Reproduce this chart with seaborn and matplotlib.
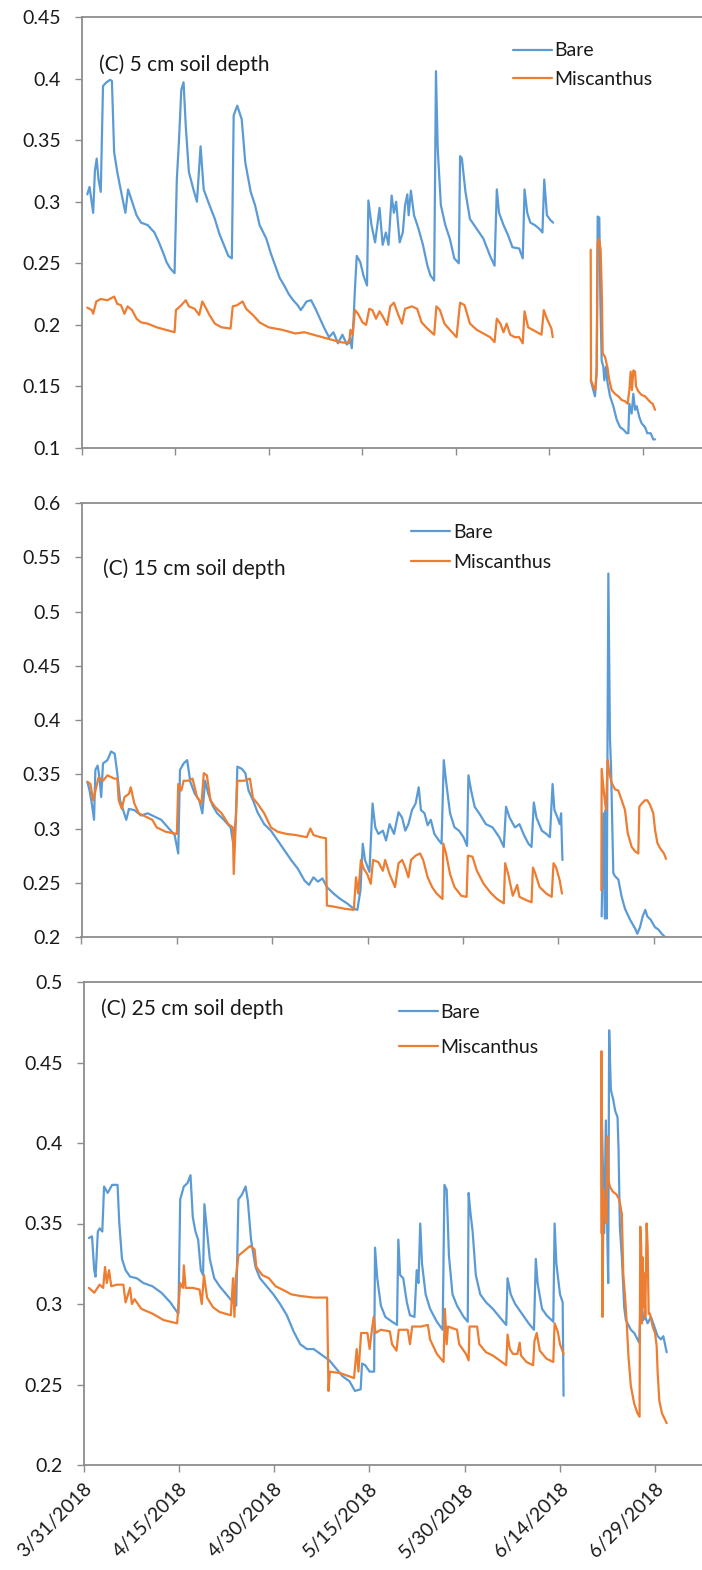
import numpy as np
import pandas as pd
import matplotlib
matplotlib.use('Agg')
import matplotlib.pyplot as plt
import seaborn as sns
from matplotlib.ticker import FuncFormatter

start = pd.Timestamp('2018-03-31')
tick_dates = pd.date_range(start, periods=7, freq='15D')
tick_labels = ['3/31/2018', '4/15/2018', '4/30/2018', '5/15/2018',
               '5/30/2018', '6/14/2018', '6/29/2018']
series_names = ['Bare', 'Miscanthus']
colors = {'Bare': '#5B9BD5', 'Miscanthus': '#ED7D31'}

# ---- 5 cm soil depth (days after 3/31/2018, soil water content) ----
bare5_day = [0.93, 1.29, 1.87, 2.15, 2.44, 2.73, 3.09, 3.45, 4.02, 4.59, 4.88, 5.24, 5.74, 6.32, 7.04, 7.47,
             8.11, 8.83, 9.55, 10.62, 11.70, 12.42, 13.14, 13.64, 14.21, 14.93, 15.29, 15.65, 16.01, 16.37,
             16.73, 17.23, 17.95, 18.52, 19.10, 19.60, 20.32, 21.39, 22.11, 22.83, 23.55, 24.12, 24.41, 24.98,
             25.70, 26.27, 27.14, 27.85, 28.57, 29.65, 30.37, 31.08, 31.80, 32.52, 33.24, 33.96, 34.67, 35.18,
             36.11, 36.83, 37.54, 38.26, 38.98, 39.70, 40.42, 41.13, 41.85, 42.57, 43.07, 43.36, 43.65, 43.86,
             44.15, 44.72, 45.23, 45.80, 46.02, 46.52, 47.09, 47.38, 47.81, 48.31, 48.82, 49.25, 49.75, 50.11,
             50.47, 51.04, 51.54, 51.90, 52.26, 52.48, 52.84, 53.34, 54.06, 54.77, 55.49, 55.99, 56.57, 56.86,
             57.14, 57.65, 58.36, 59.08, 59.80, 60.52, 60.73, 61.02, 61.59, 62.31, 63.39, 64.47, 65.54, 66.26,
             66.62, 66.98, 67.70, 68.41, 69.13, 70.21, 70.78, 71.07, 71.50, 72.00, 72.72, 73.44, 73.94, 74.23,
             74.66, 75.23, 75.66,
             81.68, 82.10, 82.37, 82.64, 82.80, 83.06, 83.23, 83.44, 83.71, 83.87, 84.14, 84.35, 84.78, 85.31,
             85.85, 86.38, 86.91, 87.45, 87.72, 87.88, 88.25, 88.52, 88.79, 89.06, 89.48, 89.86, 90.39, 90.76,
             91.30, 91.72, 92.00]
bare5_val = [0.306, 0.312, 0.291, 0.325, 0.335, 0.318, 0.308, 0.394, 0.397, 0.399, 0.398, 0.340, 0.324, 0.309, 0.291, 0.310,
             0.300, 0.289, 0.283, 0.281, 0.275, 0.267, 0.258, 0.251, 0.246, 0.242, 0.318, 0.351, 0.391, 0.397,
             0.361, 0.324, 0.310, 0.300, 0.345, 0.310, 0.300, 0.286, 0.274, 0.265, 0.256, 0.254, 0.370, 0.378,
             0.367, 0.332, 0.308, 0.297, 0.281, 0.270, 0.258, 0.248, 0.238, 0.232, 0.225, 0.220, 0.216, 0.212,
             0.219, 0.220, 0.213, 0.205, 0.197, 0.190, 0.194, 0.185, 0.192, 0.184, 0.189, 0.181, 0.205, 0.229,
             0.256, 0.251, 0.240, 0.232, 0.301, 0.281, 0.267, 0.278, 0.295, 0.265, 0.275, 0.265, 0.305, 0.291,
             0.300, 0.267, 0.275, 0.297, 0.306, 0.289, 0.309, 0.289, 0.278, 0.265, 0.248, 0.240, 0.236, 0.406,
             0.343, 0.297, 0.281, 0.270, 0.254, 0.250, 0.337, 0.335, 0.308, 0.286, 0.278, 0.270, 0.256, 0.248,
             0.310, 0.291, 0.281, 0.273, 0.263, 0.262, 0.254, 0.310, 0.291, 0.283, 0.281, 0.278, 0.275, 0.318,
             0.289, 0.285, 0.283,
             0.155, 0.147, 0.142, 0.161, 0.288, 0.287, 0.220, 0.171, 0.166, 0.155, 0.166, 0.154, 0.142, 0.134,
             0.123, 0.117, 0.115, 0.112, 0.112, 0.136, 0.128, 0.144, 0.131, 0.134, 0.125, 0.120, 0.117, 0.112,
             0.112, 0.107, 0.107]
misc5_day = [0.93, 1.65, 1.87, 2.37, 3.09, 4.16, 5.24, 5.74, 6.32, 6.89, 7.39, 8.11, 8.83, 9.55, 10.62, 12.06,
             13.50, 14.93, 15.15, 16.01, 16.73, 17.23, 18.16, 18.88, 19.38, 19.81, 20.53, 21.39, 22.47, 23.91,
             24.26, 24.98, 25.84, 26.42, 27.49, 28.57, 30.01, 32.16, 34.31, 35.75, 37.19, 39.34, 41.49, 42.93,
             43.14, 43.50, 43.86, 44.36, 45.08, 45.66, 46.16, 46.66, 47.24, 47.81, 48.31, 49.03, 49.53, 50.11,
             50.83, 51.40, 51.90, 52.98, 53.84, 54.56, 55.49, 56.57, 56.93, 57.50, 58.22, 59.08, 60.16, 60.73,
             61.45, 62.31, 63.39, 64.47, 65.54, 66.26, 66.62, 67.19, 67.70, 68.20, 68.77, 69.49, 70.21, 70.78,
             71.07, 71.64, 72.36, 73.08, 73.79, 74.16, 74.66, 75.38, 75.59,
             81.68, 81.73, 82.10, 82.42, 82.64, 82.80, 83.01, 83.28, 83.49, 83.60, 83.97, 84.35, 84.67, 85.05,
             85.58, 86.11, 86.65, 87.18, 87.61, 87.88, 88.09, 88.30, 88.52, 88.79, 88.95, 89.32, 89.86, 90.39,
             90.92, 91.30, 91.62, 92.00]
misc5_val = [0.214, 0.212, 0.209, 0.219, 0.221, 0.220, 0.223, 0.217, 0.216, 0.209, 0.215, 0.212, 0.205, 0.202, 0.201, 0.198,
             0.196, 0.194, 0.212, 0.216, 0.220, 0.215, 0.213, 0.208, 0.219, 0.215, 0.208, 0.201, 0.198, 0.197,
             0.215, 0.216, 0.219, 0.213, 0.208, 0.202, 0.198, 0.196, 0.193, 0.194, 0.192, 0.189, 0.186, 0.185,
             0.196, 0.192, 0.212, 0.209, 0.202, 0.200, 0.213, 0.212, 0.205, 0.211, 0.207, 0.200, 0.215, 0.218,
             0.208, 0.201, 0.213, 0.215, 0.213, 0.202, 0.197, 0.192, 0.215, 0.212, 0.201, 0.196, 0.190, 0.218,
             0.216, 0.201, 0.196, 0.193, 0.190, 0.186, 0.205, 0.201, 0.194, 0.201, 0.192, 0.190, 0.190, 0.185,
             0.211, 0.198, 0.196, 0.194, 0.192, 0.212, 0.205, 0.197, 0.190,
             0.261, 0.155, 0.150, 0.147, 0.166, 0.266, 0.270, 0.261, 0.220, 0.177, 0.174, 0.166, 0.155, 0.147,
             0.144, 0.142, 0.139, 0.138, 0.136, 0.147, 0.162, 0.147, 0.163, 0.162, 0.150, 0.146, 0.143, 0.142,
             0.139, 0.137, 0.136, 0.131]

# ---- 15 cm soil depth ----
bare15_day = [0.92, 1.27, 1.62, 1.97, 2.18, 2.54, 2.82, 3.10, 3.38, 4.08, 4.65, 5.21, 5.63, 6.06, 6.55, 7.04,
              7.46, 8.31, 9.37, 10.42, 11.48, 12.54, 13.59, 14.65, 15.21, 15.49, 16.06, 16.62, 17.11, 17.82,
              18.52, 19.01, 19.44, 19.93, 20.63, 21.34, 22.39, 23.45, 23.94, 24.30, 24.51, 25.21, 25.77, 26.27,
              26.97, 27.68, 28.73, 29.79, 30.85, 31.90, 32.96, 34.01, 35.07, 35.77, 36.48, 37.18, 37.89, 38.59,
              39.65, 40.70, 41.76, 42.82, 43.38, 43.87, 44.23, 44.58, 45.28, 45.77, 46.20, 46.69, 47.39, 47.89,
              48.45, 49.15, 49.86, 50.42, 50.92, 51.41, 51.97, 52.54, 53.03, 53.38, 53.94, 54.44, 54.93, 55.49,
              56.20, 56.62, 56.97, 57.32, 57.96, 58.66, 59.37, 60.07, 60.63, 60.85, 61.27, 61.83, 62.54, 63.59,
              64.65, 65.70, 66.41, 66.76, 67.32, 68.17, 68.87, 69.58, 70.28, 70.77, 71.13, 71.55, 72.39, 73.10,
              73.66, 74.08, 74.37, 74.86, 75.21, 75.42, 75.63,
              81.80, 82.06, 82.30, 82.43, 82.59, 82.85, 83.11, 83.27, 83.63, 83.90, 84.42, 84.95, 85.47, 86.26,
              87.04, 87.40, 87.83, 88.25, 88.66, 88.98, 89.50, 90.19, 90.70, 91.24, 91.76]
bare15_val = [0.343, 0.335, 0.323, 0.308, 0.354, 0.358, 0.347, 0.329, 0.360, 0.363, 0.371, 0.369, 0.351, 0.326, 0.317, 0.308,
              0.318, 0.317, 0.312, 0.314, 0.311, 0.308, 0.301, 0.294, 0.277, 0.354, 0.360, 0.363, 0.343, 0.332,
              0.326, 0.314, 0.344, 0.332, 0.321, 0.314, 0.308, 0.301, 0.283, 0.314, 0.357, 0.355, 0.351, 0.335,
              0.326, 0.315, 0.304, 0.298, 0.289, 0.280, 0.271, 0.263, 0.252, 0.248, 0.255, 0.251, 0.254, 0.246,
              0.240, 0.235, 0.231, 0.226, 0.225, 0.243, 0.286, 0.271, 0.260, 0.323, 0.301, 0.295, 0.298, 0.289,
              0.304, 0.295, 0.315, 0.310, 0.298, 0.304, 0.317, 0.323, 0.338, 0.317, 0.314, 0.303, 0.308, 0.295,
              0.289, 0.286, 0.363, 0.344, 0.314, 0.301, 0.298, 0.292, 0.284, 0.349, 0.335, 0.320, 0.314, 0.304,
              0.301, 0.292, 0.283, 0.320, 0.310, 0.301, 0.304, 0.294, 0.286, 0.283, 0.324, 0.310, 0.298, 0.295,
              0.292, 0.341, 0.317, 0.310, 0.304, 0.314, 0.271,
              0.219, 0.314, 0.217, 0.317, 0.217, 0.535, 0.382, 0.357, 0.259, 0.256, 0.253, 0.237, 0.226, 0.216,
              0.208, 0.203, 0.209, 0.219, 0.225, 0.219, 0.216, 0.209, 0.207, 0.203, 0.200]
misc15_day = [0.92, 1.41, 1.83, 2.32, 2.68, 3.38, 4.08, 5.14, 5.63, 5.85, 6.34, 6.76, 7.46, 7.75, 8.31, 9.01,
              10.07, 11.13, 11.83, 13.24, 15.00, 15.21, 15.70, 16.06, 16.76, 17.46, 18.17, 18.87, 19.23, 19.72,
              20.28, 20.99, 22.04, 23.10, 23.80, 23.94, 24.23, 24.51, 25.56, 26.48, 26.97, 27.68, 28.73, 29.79,
              30.85, 32.25, 33.66, 35.42, 35.99, 36.48, 37.54, 38.45, 38.59, 39.65, 41.41, 42.82, 43.17, 43.52,
              43.94, 44.37, 44.93, 45.49, 45.85, 46.69, 47.39, 47.75, 48.45, 49.30, 49.86, 50.42, 50.92, 51.41,
              51.83, 52.54, 53.24, 53.73, 54.44, 55.14, 55.85, 56.76, 56.90, 57.32, 57.96, 58.66, 59.72, 60.56,
              60.77, 61.48, 62.18, 63.24, 64.30, 65.35, 66.41, 66.62, 67.11, 67.82, 68.52, 68.87, 69.93, 70.77,
              70.99, 71.34, 72.04, 73.10, 73.94, 74.23, 74.65, 75.21, 75.56,
              81.75, 81.80, 82.17, 82.48, 82.75, 83.00, 83.38, 83.90, 84.42, 84.95, 85.47, 85.89, 86.52, 87.04,
              87.56, 87.72, 88.10, 88.62, 88.98, 89.40, 89.92, 90.19, 90.55, 90.97, 91.60, 91.92]
misc15_val = [0.343, 0.341, 0.326, 0.338, 0.347, 0.344, 0.349, 0.346, 0.346, 0.326, 0.318, 0.329, 0.332, 0.338, 0.323, 0.314,
              0.311, 0.308, 0.301, 0.297, 0.295, 0.341, 0.335, 0.344, 0.344, 0.346, 0.329, 0.323, 0.351, 0.349,
              0.326, 0.320, 0.314, 0.304, 0.301, 0.258, 0.301, 0.344, 0.344, 0.346, 0.328, 0.323, 0.314, 0.301,
              0.297, 0.295, 0.294, 0.292, 0.300, 0.294, 0.292, 0.291, 0.229, 0.228, 0.226, 0.225, 0.255, 0.240,
              0.271, 0.263, 0.258, 0.249, 0.271, 0.269, 0.261, 0.271, 0.258, 0.246, 0.268, 0.271, 0.264, 0.255,
              0.271, 0.275, 0.277, 0.271, 0.255, 0.246, 0.240, 0.235, 0.286, 0.277, 0.258, 0.246, 0.238, 0.237,
              0.275, 0.274, 0.261, 0.249, 0.241, 0.235, 0.231, 0.268, 0.258, 0.238, 0.248, 0.237, 0.234, 0.232,
              0.264, 0.259, 0.246, 0.240, 0.237, 0.268, 0.264, 0.252, 0.240,
              0.243, 0.355, 0.332, 0.317, 0.363, 0.351, 0.342, 0.336, 0.335, 0.326, 0.317, 0.296, 0.283, 0.279,
              0.277, 0.320, 0.323, 0.326, 0.326, 0.322, 0.314, 0.299, 0.287, 0.282, 0.277, 0.272]

# ---- 25 cm soil depth ----
bare25_day = [0.85, 1.34, 1.69, 1.90, 2.26, 2.54, 2.96, 3.24, 3.81, 4.51, 5.36, 5.64, 6.06, 6.63, 7.33, 8.39,
              9.45, 10.86, 12.27, 13.68, 14.74, 14.95, 15.23, 15.80, 16.36, 16.85, 17.21, 17.63, 18.05, 18.48,
              18.83, 19.04, 19.46, 19.89, 20.59, 21.44, 22.50, 23.55, 24.05, 24.40, 24.96, 25.53, 25.88, 26.38,
              27.08, 27.79, 28.84, 29.90, 30.96, 32.02, 33.08, 34.13, 35.19, 36.25, 37.31, 38.72, 39.77, 40.83,
              41.89, 42.74, 43.65, 43.86, 44.36, 45.06, 45.77, 45.91, 46.26, 46.83, 47.53, 48.59, 49.37, 49.58,
              49.86, 50.35, 50.92, 51.41, 52.12, 52.47, 52.75, 53.03, 53.31, 53.88, 54.58, 55.64, 56.56, 56.84,
              57.19, 57.55, 58.11, 58.82, 59.87, 60.51, 60.65, 60.93, 61.28, 61.78, 62.48, 63.40, 64.46, 65.51,
              66.57, 66.78, 67.28, 67.98, 69.04, 70.10, 70.94, 71.23, 71.51, 72.21, 72.92, 73.98, 74.19, 74.47,
              75.04, 75.46, 75.60,
              81.60, 82.00, 82.26, 82.50, 82.63, 82.78, 83.05, 83.42, 83.73, 84.10, 84.26, 84.47, 84.78, 85.15,
              85.41, 86.20, 86.73, 87.25, 87.52, 87.78, 88.15, 88.47, 88.84, 89.36, 89.90, 90.42, 90.94, 91.31,
              91.84]
bare25_val = [0.341, 0.342, 0.321, 0.317, 0.345, 0.347, 0.345, 0.373, 0.369, 0.374, 0.374, 0.350, 0.328, 0.321, 0.317, 0.316,
              0.313, 0.311, 0.307, 0.301, 0.295, 0.294, 0.365, 0.373, 0.375, 0.380, 0.354, 0.345, 0.340, 0.321,
              0.318, 0.362, 0.345, 0.328, 0.316, 0.311, 0.306, 0.301, 0.299, 0.365, 0.368, 0.373, 0.364, 0.340,
              0.323, 0.316, 0.311, 0.306, 0.300, 0.293, 0.283, 0.275, 0.272, 0.272, 0.269, 0.265, 0.260, 0.255,
              0.252, 0.246, 0.247, 0.263, 0.262, 0.258, 0.258, 0.335, 0.316, 0.299, 0.292, 0.289, 0.287, 0.340,
              0.318, 0.316, 0.301, 0.293, 0.292, 0.321, 0.313, 0.350, 0.325, 0.306, 0.297, 0.289, 0.284, 0.374,
              0.371, 0.330, 0.306, 0.299, 0.292, 0.289, 0.369, 0.357, 0.345, 0.318, 0.306, 0.301, 0.297, 0.292,
              0.287, 0.316, 0.306, 0.300, 0.294, 0.288, 0.284, 0.328, 0.313, 0.297, 0.293, 0.289, 0.350, 0.325,
              0.306, 0.301, 0.243,
              0.423, 0.344, 0.414, 0.340, 0.313, 0.470, 0.433, 0.427, 0.420, 0.416, 0.396, 0.348, 0.329, 0.298,
              0.290, 0.284, 0.282, 0.278, 0.276, 0.307, 0.290, 0.292, 0.288, 0.292, 0.286, 0.280, 0.278, 0.280,
              0.270]
misc25_day = [0.85, 1.69, 2.54, 3.10, 3.39, 3.67, 4.02, 4.37, 5.22, 6.28, 6.63, 7.33, 7.62, 8.04, 9.10, 10.86,
              12.62, 14.74, 15.23, 15.66, 15.80, 16.08, 17.21, 18.27, 18.62, 18.97, 19.46, 20.38, 21.44, 23.20,
              23.55, 23.77, 23.98, 24.40, 25.32, 26.23, 26.94, 27.22, 28.14, 29.20, 30.25, 31.31, 32.72, 34.13,
              36.25, 38.36, 38.58, 38.79, 40.48, 42.60, 43.02, 43.30, 43.72, 44.71, 45.06, 45.42, 45.70, 45.98,
              46.83, 48.24, 48.59, 49.29, 49.65, 51.06, 51.41, 51.76, 53.17, 54.23, 54.58, 55.64, 56.70, 56.91,
              57.19, 57.40, 58.82, 59.17, 60.23, 60.65, 60.79, 61.99, 62.34, 63.40, 64.46, 65.87, 66.57, 66.78,
              67.14, 67.63, 68.34, 68.69, 68.90, 69.75, 70.80, 71.02, 71.37, 71.86, 72.92, 73.98, 74.19, 74.68,
              75.04, 75.60,
              81.55, 81.57, 81.73, 81.89, 82.15, 82.36, 82.52, 82.68, 82.89, 83.31, 83.94, 84.36, 84.78, 85.00,
              85.31, 85.52, 85.83, 86.20, 86.73, 87.25, 87.57, 87.68, 87.83, 87.94, 88.05, 88.15, 88.31, 88.47,
              88.68, 88.84, 89.00, 89.20, 89.63, 90.00, 90.26, 90.42, 90.68, 91.10, 91.47, 91.84]
misc25_val = [0.310, 0.307, 0.312, 0.310, 0.323, 0.313, 0.321, 0.311, 0.312, 0.312, 0.301, 0.310, 0.300, 0.303, 0.297, 0.294,
              0.290, 0.288, 0.313, 0.310, 0.324, 0.310, 0.310, 0.309, 0.300, 0.318, 0.304, 0.298, 0.295, 0.293,
              0.316, 0.292, 0.316, 0.330, 0.333, 0.336, 0.334, 0.323, 0.318, 0.316, 0.311, 0.309, 0.306, 0.305,
              0.304, 0.304, 0.246, 0.258, 0.257, 0.254, 0.272, 0.258, 0.282, 0.282, 0.272, 0.284, 0.292, 0.282,
              0.284, 0.283, 0.275, 0.271, 0.284, 0.284, 0.275, 0.286, 0.286, 0.287, 0.278, 0.269, 0.264, 0.297,
              0.275, 0.286, 0.284, 0.275, 0.269, 0.265, 0.286, 0.286, 0.275, 0.270, 0.268, 0.264, 0.262, 0.281,
              0.272, 0.269, 0.269, 0.276, 0.268, 0.264, 0.262, 0.277, 0.282, 0.271, 0.266, 0.264, 0.288, 0.283,
              0.275, 0.269,
              0.344, 0.457, 0.292, 0.371, 0.356, 0.350, 0.404, 0.377, 0.373, 0.370, 0.368, 0.365, 0.356, 0.319,
              0.303, 0.290, 0.267, 0.249, 0.238, 0.232, 0.230, 0.348, 0.336, 0.288, 0.329, 0.298, 0.319, 0.292,
              0.350, 0.336, 0.294, 0.294, 0.286, 0.282, 0.274, 0.257, 0.240, 0.232, 0.229, 0.226]

panels = [
    dict(label='(C) 5 cm soil depth', bare=(bare5_day, bare5_val), misc=(misc5_day, misc5_val),
         ylim=(0.1, 0.45), yticks=np.arange(0.10, 0.451, 0.05), px_per_day=6.234,
         rect=[81.5, 17, 702, 448], text_xy=(0.028, 0.889), leg_xy=(0.941, 0.695), leg_sp=0.6),
    dict(label='(C) 15 cm soil depth', bare=(bare15_day, bare15_val), misc=(misc15_day, misc15_val),
         ylim=(0.2, 0.6), yticks=np.arange(0.20, 0.601, 0.05), px_per_day=6.359,
         rect=[81.5, 503, 702, 937], text_xy=(0.035, 0.848), leg_xy=(0.952, 0.531), leg_sp=0.66),
    dict(label='(C) 25 cm soil depth', bare=(bare25_day, bare25_val), misc=(misc25_day, misc25_val),
         ylim=(0.2, 0.5), yticks=np.arange(0.20, 0.501, 0.05), px_per_day=6.35,
         rect=[83.5, 982, 702, 1465], text_xy=(0.028, 0.944), leg_xy=(0.954, 0.510), leg_sp=0.92),
]


def to_frame(day, val, name):
    day = np.asarray(day, dtype=float)
    assert len(day) == len(val), (name, len(day), len(val))
    seg = np.concatenate([[0], np.cumsum(np.diff(day) > 3)])
    return pd.DataFrame({'date': start + pd.to_timedelta(day, unit='D'),
                         'value': val, 'series': name, 'seg': seg})


sns.set_theme(style='white')
plt.rcParams['font.family'] = ['Lato', 'DejaVu Sans']
plt.rcParams['text.color'] = '#1a1a1a'

W, H = 702, 1570
fig = plt.figure(figsize=(W / 100, H / 100), dpi=100)
grey = '#8c8c8c'
extra = 8  # axes run a few px past the right edge, as in the cropped original

for i, p in enumerate(panels):
    x0, y0, x1, y1 = p['rect']
    width_px = x1 - x0 + extra
    ax = fig.add_axes([x0 / W, 1 - y1 / H, width_px / W, (y1 - y0) / H])
    df = pd.concat([to_frame(*p['bare'], 'Bare'), to_frame(*p['misc'], 'Miscanthus')])
    sns.lineplot(data=df, x='date', y='value', hue='series', units='seg', estimator=None,
                 palette=colors, hue_order=series_names, linewidth=1.6, ax=ax)

    ax.set_ylim(*p['ylim'])
    ax.set_yticks(p['yticks'])
    ax.yaxis.set_major_formatter(FuncFormatter(lambda v, pos: f'{v:g}'))
    ax.set_xlim(start, start + pd.Timedelta(days=width_px / p['px_per_day']))
    ax.set_xticks(tick_dates)
    if i == 2:
        ax.set_xticklabels(tick_labels, rotation=45, ha='right', rotation_mode='anchor')
    else:
        ax.set_xticklabels([])
    ax.set_xlabel('')
    ax.set_ylabel('')

    for side in ['left', 'bottom', 'top']:
        ax.spines[side].set_color(grey)
        ax.spines[side].set_linewidth(1.3)
    ax.spines['right'].set_visible(False)
    ax.tick_params(axis='both', direction='out', length=5, width=1, color=grey,
                   labelsize=14, labelcolor='#1a1a1a', bottom=True, left=True)
    ax.tick_params(axis='y', pad=10)
    ax.tick_params(axis='x', pad=6)

    ax.text(p['text_xy'][0], p['text_xy'][1], p['label'], transform=ax.transAxes,
            fontsize=15, va='center', ha='left')
    # legend anchor: x in axes fraction of the original (un-extended) width
    lx = p['leg_xy'][1] * (x1 - x0) / width_px
    sns.move_legend(ax, loc='upper left', bbox_to_anchor=(lx, p['leg_xy'][0]), frameon=False,
                    title=None, fontsize=14, handlelength=2.0, handletextpad=0.15, borderpad=0,
                    borderaxespad=0, labelspacing=p['leg_sp'])

fig.savefig('out.png', dpi=100)
